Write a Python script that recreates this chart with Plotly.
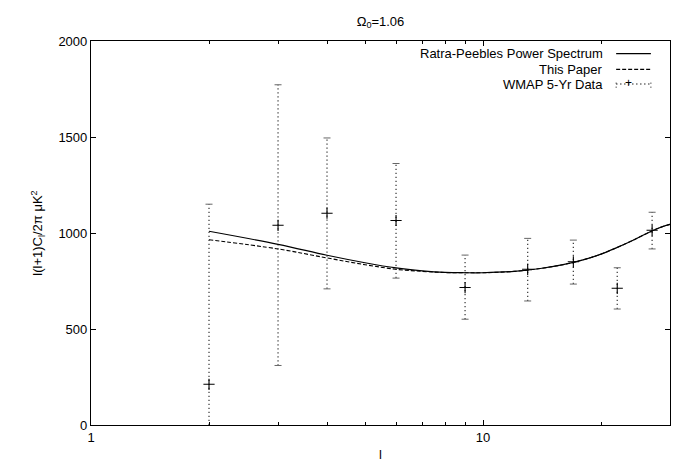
import plotly.graph_objects as go

# multipole l and theory curves
ell_model = [2, 3, 4, 5, 6, 7, 8, 9, 10, 12, 14, 16, 18, 20, 22, 24, 26, 28, 30]
ratra_peebles = [1009, 941, 884, 845, 818, 803, 795, 793, 793, 800, 815, 835,
                 860, 890, 925, 960, 995, 1025, 1045]
this_paper = [965, 917, 870, 835, 811, 800, 794, 793, 793, 800, 815, 835,
              860, 890, 925, 960, 995, 1025, 1045]

# WMAP 5-yr binned points
ell_wmap = [2, 3, 4, 6, 9, 13, 17, 22, 27]
wmap_val = [212, 1040, 1103, 1065, 716, 811, 850, 712, 1014]
wmap_hi = [1150, 1772, 1495, 1362, 885, 972, 963, 819, 1108]
wmap_lo = [0, 310, 709, 765, 551, 646, 734, 604, 917]

FONT = "Liberation Sans, Arial, sans-serif"
SHORT_DASH = "4px,2px"

fig = go.Figure()

# dotted error bars as broken segments
ex, ey = [], []
for l, lo, hi in zip(ell_wmap, wmap_lo, wmap_hi):
    ex += [l, l, None]
    ey += [lo, hi, None]
fig.add_trace(go.Scatter(x=ex, y=ey, mode="lines",
                         line=dict(color="#444", width=1.3, dash="1.3px,2.7px"),
                         hoverinfo="skip"))
# caps
fig.add_trace(go.Scatter(x=ell_wmap + ell_wmap[1:], y=wmap_hi + wmap_lo[1:],
                         mode="markers",
                         marker=dict(symbol="line-ew", size=5, color="#666",
                                     line=dict(color="#666", width=1)),
                         hoverinfo="skip"))
fig.add_trace(go.Scatter(x=ell_wmap, y=wmap_val, mode="markers",
                         marker=dict(symbol="cross-thin", size=8, color="black",
                                     line=dict(color="black", width=1.1))))

fig.add_trace(go.Scatter(x=ell_model, y=this_paper, mode="lines",
                         line=dict(color="black", width=1.1, dash=SHORT_DASH, shape="spline")))
fig.add_trace(go.Scatter(x=ell_model, y=ratra_peebles, mode="lines",
                         line=dict(color="black", width=1.2, shape="spline")))

# legend drawn by hand (text right, sample on right like gnuplot)
rows = [("Ratra-Peebles Power Spectrum", 0.967, "solid"),
        ("This Paper", 0.926, SHORT_DASH),
        ("WMAP 5-Yr Data", 0.888, "1.3px,2.7px")]
for label, yy, dash in rows:
    fig.add_annotation(x=0.888, y=yy, xref="paper", yref="paper", text=label,
                       showarrow=False, xanchor="right", yanchor="middle",
                       font=dict(family=FONT, size=13, color="black"))
    fig.add_shape(type="line", xref="paper", yref="paper", x0=0.907, x1=0.967,
                  y0=yy, y1=yy, line=dict(color="black", width=1.1, dash=dash))
for xx in (0.907, 0.967):
    fig.add_shape(type="line", xref="paper", yref="paper", x0=xx, x1=xx,
                  y0=0.878, y1=0.898, line=dict(color="#444", width=1, dash="1.3px,2.7px"))
fig.add_annotation(x=0.937, y=0.888, xref="paper", yref="paper", text="+",
                   showarrow=False, yanchor="middle", yshift=1,
                   font=dict(family=FONT, size=12, color="black"))

fig.update_layout(
    width=681, height=464,
    margin=dict(l=83, r=19, t=33, b=38),
    paper_bgcolor="white", plot_bgcolor="white",
    showlegend=False,
    font=dict(family=FONT, size=13, color="black"),
    title=dict(text="Ω<sub>0</sub>=1.06", x=0.547, xanchor="center",
               y=0.972, yanchor="middle",
               font=dict(family=FONT, size=13, color="black")),
)
fig.update_xaxes(type="log", range=[0, 1.477], tickvals=[1, 10], ticktext=["1", "10"],
                 ticks="inside", ticklen=5, tickcolor="black",
                 minor=dict(tickvals=[2, 3, 4, 5, 6, 7, 8, 9, 20, 30], ticks="inside",
                            ticklen=3, tickcolor="black"),
                 showline=True, linecolor="black", linewidth=1.2, mirror="ticks",
                 showgrid=False, zeroline=False,
                 title=dict(text="l", standoff=6, font=dict(family=FONT, size=13)))
fig.update_yaxes(range=[0, 2000], tickvals=[0, 500, 1000, 1500, 2000],
                 ticks="inside", ticklen=5, tickcolor="black",
                 showline=True, linecolor="black", linewidth=1.2, mirror="ticks",
                 showgrid=False, zeroline=False,
                 title=dict(text="l(l+1)C<sub>l</sub>/2π μK<sup>2</sup>", standoff=12,
                            font=dict(family=FONT, size=13)))

fig.write_html("out.html")
